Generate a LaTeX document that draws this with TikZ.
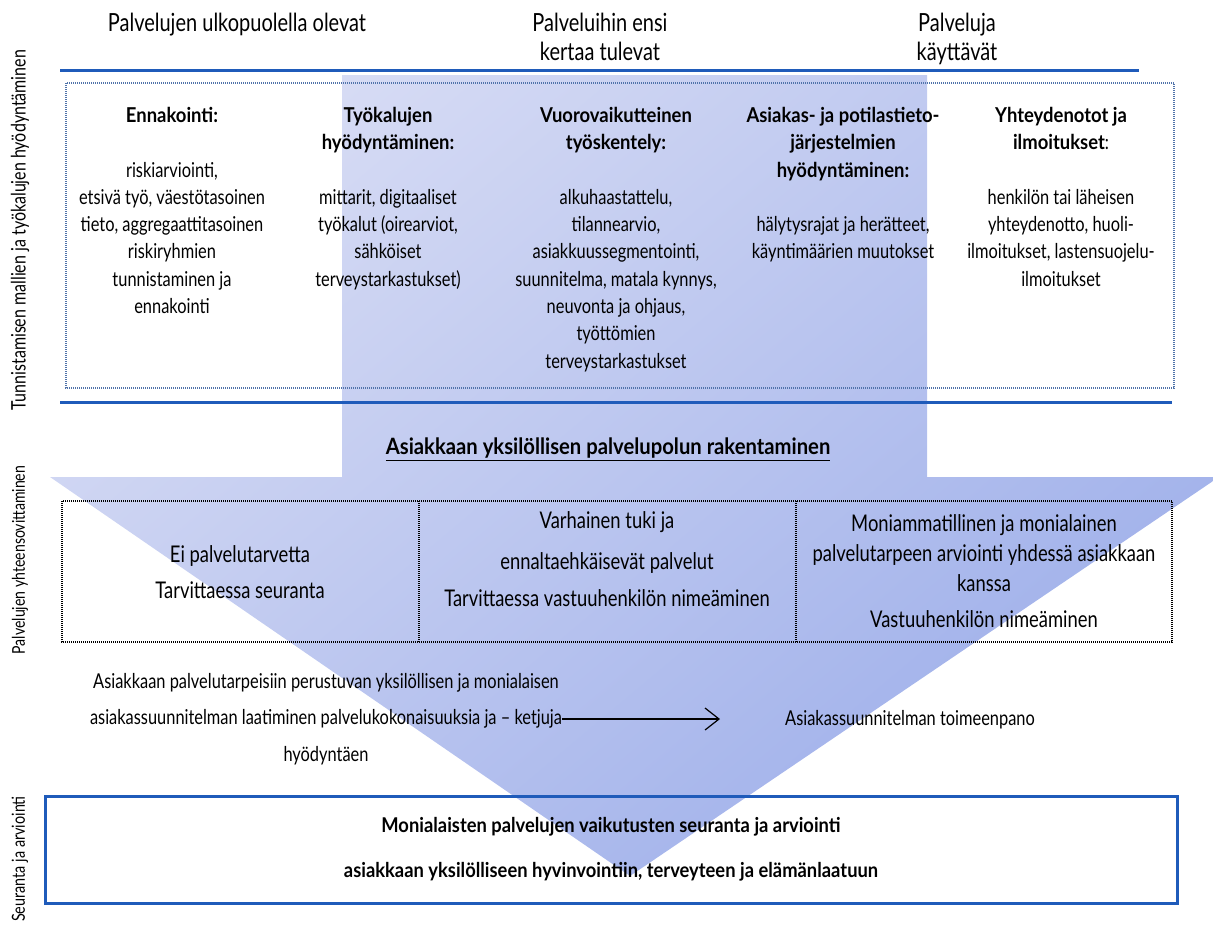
\documentclass[tikz,border=0pt]{standalone}
\usepackage{fontspec}
\setmainfont{Lato}[FakeStretch=0.8, BoldFeatures={FakeStretch=0.9}]
\usetikzlibrary{arrows.meta,positioning}

\definecolor{rulerblue}{RGB}{31,91,186}
\definecolor{dotblue}{RGB}{80,115,170}
\definecolor{arrowlite}{RGB}{214,219,244}
\definecolor{arrowdark}{RGB}{158,175,234}

\tikzset{
  txt/.style={inner sep=0pt, anchor=north, align=center},
  head/.style={txt, font=\fontsize{25}{29}\selectfont},
  coltxt/.style={txt, font=\fontsize{20.5}{27.3}\selectfont},
  midtxt/.style={txt, font=\fontsize{23}{30}\selectfont},
  lowtxt/.style={txt, font=\fontsize{20.5}{36.5}\selectfont},
  side/.style={inner sep=0pt, rotate=90, font=\fontsize{20}{24}\selectfont},
  ruler/.style={draw=rulerblue, line width=3pt},
  dotbox/.style={dash pattern=on 1pt off 1pt, line width=1.1pt}
}

\begin{document}
\begin{tikzpicture}[x=1pt, y=-1pt]
\path[use as bounding box] (0,0) rectangle (1213,927);

% big arrow behind everything
\begin{scope}
  \clip (0,0) rectangle (1213,927);
  \shade[top color=arrowlite, bottom color=arrowdark, shading angle=40]
    (342,75) -- (927,75) -- (927,477) -- (1219,477) -- (630,876)
    -- (50,477) -- (342,477) -- cycle;
\end{scope}

% side labels
\node[side] (recog) at (20,230) {Tunnistamisen mallien ja työkalujen hyödyntäminen};
\node[side, font=\fontsize{17.6}{21}\selectfont] (coord) at (20,560) {Palvelujen yhteensovittaminen};
\node[side, font=\fontsize{18}{21}\selectfont] (follow) at (20,859) {Seuranta ja arviointi};

% header
\node[head] (outside) at (237,13) {Palvelujen ulkopuolella olevat};
\node[head] (firsttime) at (600,13) {Palveluihin ensi\\kertaa tulevat};
\node[head] (users) at (957,13) {Palveluja\\käyttävät};

\draw[ruler] (60,70) -- (1139,70);
\draw[dotbox, draw=dotblue] (66,83) rectangle (1174,388);
\draw[ruler] (60,402) -- (1172,402);

% tools and models
\node[coltxt] (ennak) at (172,107) {\textbf{Ennakointi:}\\[27.3pt]riskiarviointi,\\etsivä työ, väestötasoinen\\tieto, aggregaattitasoinen\\riskiryhmien\\tunnistaminen ja\\ennakointi};
\node[coltxt] (tools) at (388,107) {\textbf{Työkalujen}\\\textbf{hyödyntäminen:}\\[27.3pt]mittarit, digitaaliset\\työkalut (oirearviot,\\sähköiset\\terveystarkastukset)};
\node[coltxt] (interact) at (616,107) {\textbf{Vuorovaikutteinen}\\\textbf{työskentely:}\\[27.3pt]alkuhaastattelu,\\tilannearvio,\\asiakkuussegmentointi,\\suunnitelma, matala kynnys,\\neuvonta ja ohjaus,\\työttömien\\terveystarkastukset};
\node[coltxt] (records) at (843,107) {\textbf{Asiakas- ja potilastieto-}\\\textbf{järjestelmien}\\\textbf{hyödyntäminen:}\\[27.3pt]hälytysrajat ja herätteet,\\käyntimäärien muutokset};
\node[coltxt] (contacts) at (1061,107) {\textbf{Yhteydenotot ja}\\\textbf{ilmoitukset}:\\[27.3pt]henkilön tai läheisen\\yhteydenotto, huoli-\\ilmoitukset, lastensuojelu-\\ilmoitukset};

\node[txt, font=\bfseries\fontsize{22.5}{26}\selectfont] (pathway) at (608,438) {\underline{Asiakkaan yksilöllisen palvelupolun rakentaminen}};

% service levels
\draw[dotbox] (62,501) rectangle (1172,642);
\draw[dotbox] (419,501) -- (419,642);
\draw[dotbox] (796,501) -- (796,642);
\node[midtxt] (noneed) at (240,545) {Ei palvelutarvetta\\[6pt]Tarvittaessa seuranta};
\node[midtxt] (early) at (607,511) {Varhainen tuki ja\\[11pt]ennaltaehkäisevät palvelut\\[7pt]Tarvittaessa vastuuhenkilön nimeäminen};
\node[midtxt] (multi) at (984,514) {Moniammatillinen ja monialainen\\palvelutarpeen arviointi yhdessä asiakkaan\\kanssa\\[6pt]Vastuuhenkilön nimeäminen};

% plan
\node[lowtxt] (plan) at (326,673) {Asiakkaan palvelutarpeisiin perustuvan yksilöllisen ja monialaisen\\asiakassuunnitelman laatiminen palvelukokonaisuuksia ja – ketjuja\\hyödyntäen};
\node[lowtxt, anchor=center] (impl) at (910,720) {Asiakassuunnitelman toimeenpano};
\coordinate (plantip) at (720,720);
\draw[-{Straight Barb[length=14pt,width=22pt]}, line width=1.2pt] (plan.east) -- (plan.east -| plantip);

% evaluation
\node[draw=rulerblue, line width=3pt, minimum width=1132pt, minimum height=107pt, inner sep=0pt,
      align=center, font=\bfseries\fontsize{20.4}{24}\selectfont] (eval) at (611,849.5)
  {Monialaisten palvelujen vaikutusten seuranta ja arviointi\\[21pt]asiakkaan yksilölliseen hyvinvointiin, terveyteen ja elämänlaatuun};
\end{tikzpicture}
\end{document}
